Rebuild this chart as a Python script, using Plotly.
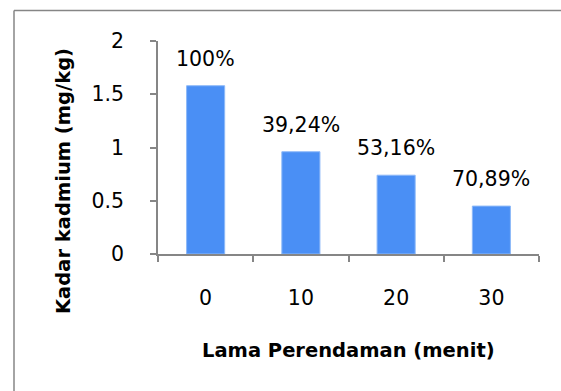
import plotly.graph_objects as go

categories = ["0", "10", "20", "30"]
values = [1.58, 0.96, 0.74, 0.45]
labels = ["100%", "39,24%", "53,16%", "70,89%"]
y_ticks = [0, 0.5, 1, 1.5, 2]
y_ticklabels = ["0", "0.5", "1", "1.5", "2"]

FONT = "DejaVu Sans"
GRAY = "#868686"
W, H = 561, 391
L, R, T, B = 158, 22, 41, 137
pw, ph = W - L - R, H - T - B

fig = go.Figure()
fig.add_trace(go.Bar(
    x=categories, y=values,
    marker=dict(color="#4A8FF5", line=dict(color="#8DB9F8", width=1)),
    hoverinfo="skip",
))

for i, (v, t) in enumerate(zip(values, labels)):
    fig.add_annotation(x=i, y=v, text=t, showarrow=False, yanchor="middle",
                       yshift=27, font=dict(family=FONT, size=20.5, color="#000"))

def px_x(p):
    return (p - L) / pw

def px_y(p):
    return (H - B - p) / ph

# outer chart border (top and left visible)
fig.add_shape(type="line", xref="paper", yref="paper",
              x0=px_x(14), x1=px_x(600), y0=px_y(10.5), y1=px_y(10.5),
              line=dict(color=GRAY, width=1.5))
fig.add_shape(type="line", xref="paper", yref="paper",
              x0=px_x(14), x1=px_x(14), y0=px_y(10.5), y1=px_y(420),
              line=dict(color=GRAY, width=1.5))

fig.add_annotation(xref="paper", yref="paper", x=px_x(63), y=px_y(181),
                   xanchor="center", yanchor="middle",
                   text="<b>Kadar kadmium (mg/kg)</b>", textangle=-90,
                   showarrow=False, font=dict(family=FONT, size=19.5, color="#000"))
fig.add_annotation(xref="paper", yref="paper", x=px_x(348), y=px_y(350),
                   xanchor="center", yanchor="middle",
                   text="<b>Lama Perendaman (menit)</b>",
                   showarrow=False, font=dict(family=FONT, size=19.5, color="#000"))

fig.update_layout(
    width=W, height=H,
    margin=dict(l=L, r=R, t=T, b=B, pad=0),
    paper_bgcolor="white", plot_bgcolor="white",
    bargap=0.6, showlegend=False,
    font=dict(family=FONT, color="#000"),
)
fig.update_xaxes(
    type="category", range=[-0.5, 3.5], showgrid=False, showline=True,
    linecolor=GRAY, linewidth=1.5,
    ticks="outside", tickson="boundaries", ticklen=6, tickcolor=GRAY, tickwidth=1.5,
    tickfont=dict(family=FONT, size=20.5, color="#000"), ticklabelstandoff=25,
    tickangle=0, zeroline=False,
)
fig.update_yaxes(
    range=[0, 2], tickvals=y_ticks, ticktext=y_ticklabels, showgrid=False,
    showline=True, linecolor=GRAY, linewidth=1.5,
    ticks="outside", ticklen=6, tickcolor=GRAY, tickwidth=1.5,
    tickfont=dict(family=FONT, size=20.5, color="#000"), ticklabelstandoff=22,
    zeroline=False,
)

fig.write_html("out.html")
